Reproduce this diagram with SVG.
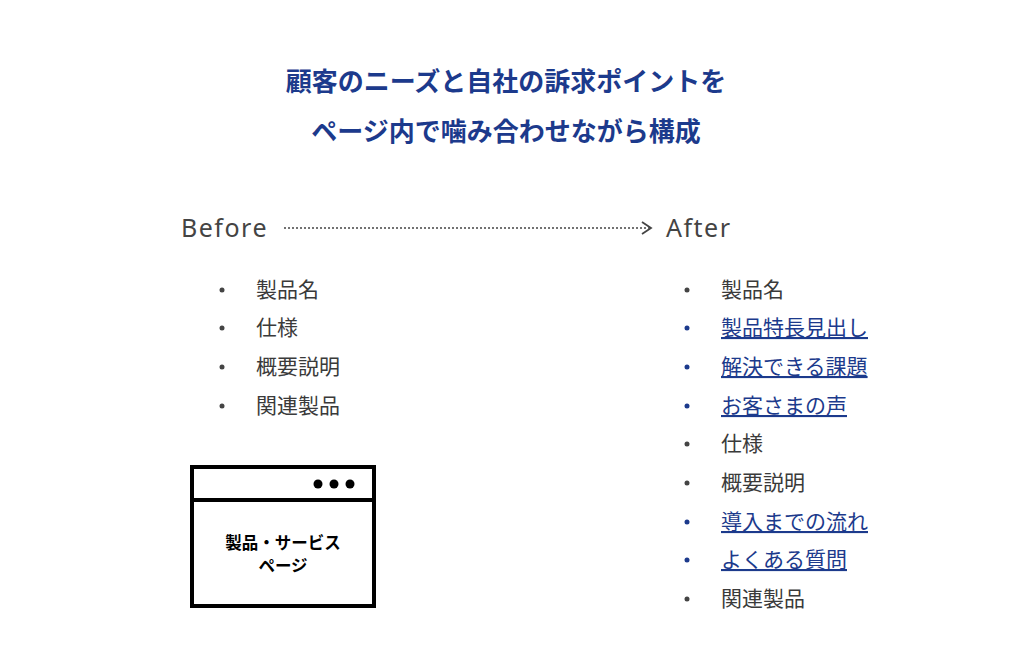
<svg xmlns="http://www.w3.org/2000/svg" width="1024" height="671" viewBox="0 0 1024 671">
<style>
.t{font-family:"Noto Sans CJK JP",sans-serif;font-weight:bold;font-size:26px;fill:#1c3a8c;text-anchor:middle}
.l{font-family:"Noto Sans CJK JP",sans-serif;font-size:21px;fill:#3a3a3a}
.b{font-family:"Noto Sans CJK JP",sans-serif;font-size:21px;fill:#1c3a8c;text-decoration:underline}
.h{font-family:"Noto Sans","Noto Sans CJK JP",sans-serif;font-size:25px;letter-spacing:1.5px;fill:#444}
.d{fill:#444}.db{fill:#1c3a8c}
.p{font-family:"Noto Sans CJK JP",sans-serif;font-weight:bold;font-size:16.5px;text-anchor:middle}
</style>
<rect width="1024" height="671" fill="#fff"/>
<g id="title">
<text class="t" x="506" y="91">顧客のニーズと自社の訴求ポイントを</text>
<text class="t" x="506" y="141">ページ内で噛み合わせながら構成</text>
</g>
<g id="before"><text class="h" x="181" y="237">Before</text></g>
<g id="after"><text class="h" x="666" y="237">After</text></g>
<g id="connectors">
<line x1="284" y1="228" x2="650" y2="228" stroke="#444" stroke-width="1.5" stroke-dasharray="2,2"/>
<polyline points="642,222 651,228 642,234" fill="none" stroke="#444" stroke-width="1.8"/>
</g>
<g id="before-list">
<circle class="d" cx="222" cy="290" r="2.5"/><text class="l" x="256" y="297">製品名</text>
<circle class="d" cx="222" cy="328" r="2.5"/><text class="l" x="256" y="335">仕様</text>
<circle class="d" cx="222" cy="367" r="2.5"/><text class="l" x="256" y="374">概要説明</text>
<circle class="d" cx="222" cy="406" r="2.5"/><text class="l" x="256" y="413">関連製品</text>
</g>
<g id="after-list">
<circle class="d" cx="687" cy="290" r="2.5"/><text class="l" x="721" y="297">製品名</text>
<circle class="db" cx="687" cy="328" r="2.5"/><text class="b" x="721" y="335">製品特長見出し</text>
<circle class="db" cx="687" cy="367" r="2.5"/><text class="b" x="721" y="374">解決できる課題</text>
<circle class="db" cx="687" cy="406" r="2.5"/><text class="b" x="721" y="413">お客さまの声</text>
<circle class="d" cx="687" cy="444" r="2.5"/><text class="l" x="721" y="451">仕様</text>
<circle class="d" cx="687" cy="483" r="2.5"/><text class="l" x="721" y="490">概要説明</text>
<circle class="db" cx="687" cy="522" r="2.5"/><text class="b" x="721" y="529">導入までの流れ</text>
<circle class="db" cx="687" cy="560" r="2.5"/><text class="b" x="721" y="567">よくある質問</text>
<circle class="d" cx="687" cy="599" r="2.5"/><text class="l" x="721" y="606">関連製品</text>
</g>
<g id="page">
<rect x="192" y="467" width="182" height="139" fill="#fff" stroke="#000" stroke-width="4"/>
<line x1="192" y1="500" x2="374" y2="500" stroke="#000" stroke-width="4"/>
<circle cx="318" cy="484" r="4.5"/><circle cx="334" cy="484" r="4.5"/><circle cx="350" cy="484" r="4.5"/>
<text class="p" x="283" y="549">製品・サービス</text>
<text class="p" x="283" y="572">ページ</text>
</g>
</svg>
